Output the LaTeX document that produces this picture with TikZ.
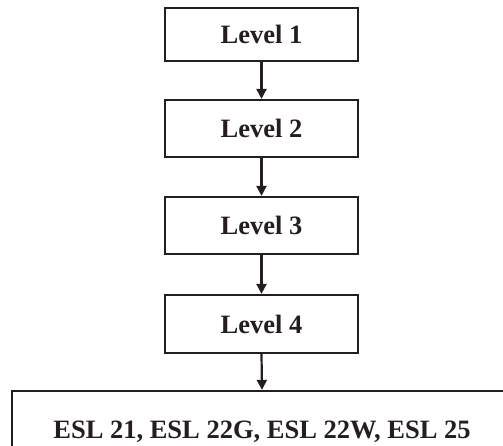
\documentclass[tikz,border=0pt]{standalone}
\usepackage{fontspec}
\setmainfont{Liberation Serif}
\usetikzlibrary{arrows.meta}
\definecolor{ink}{HTML}{231F20}
\begin{document}
\begin{tikzpicture}[x=1pt,y=1pt,
  levelbox/.style={draw=ink,line width=2.2pt,rectangle,inner sep=0pt,minimum width=193pt,
    font=\fontsize{26.5}{30}\selectfont\bfseries,text=ink},
  conn/.style={draw=ink,line width=2.2pt,-{Triangle[length=10pt,width=10pt]}}]
\useasboundingbox (0,0) rectangle (503,446);
\clip (0,0) rectangle (503,446);
\fill[white] (0,0) rectangle (503,446);
\node[levelbox,minimum height=53pt] (l1) at (261.5,411.5) {Level 1};
\node[levelbox,minimum height=57pt] (l2) at (261.5,317.5) {Level 2};
\node[levelbox,minimum height=57pt] (l3) at (261.5,220.5) {Level 3};
\node[levelbox,minimum height=58pt] (l4) at (261.5,122) {Level 4};
\node[levelbox,minimum width=500pt,minimum height=82pt] (esl) at (262,14) {ESL 21, ESL 22G, ESL 22W, ESL 25};
\draw[conn] (l1.south) -- (l2.north);
\draw[conn] (l2.south) -- (l3.north);
\draw[conn] (l3.south) -- (l4.north);
\draw[conn] (l4.south) -- (esl.north);
\end{tikzpicture}
\end{document}
